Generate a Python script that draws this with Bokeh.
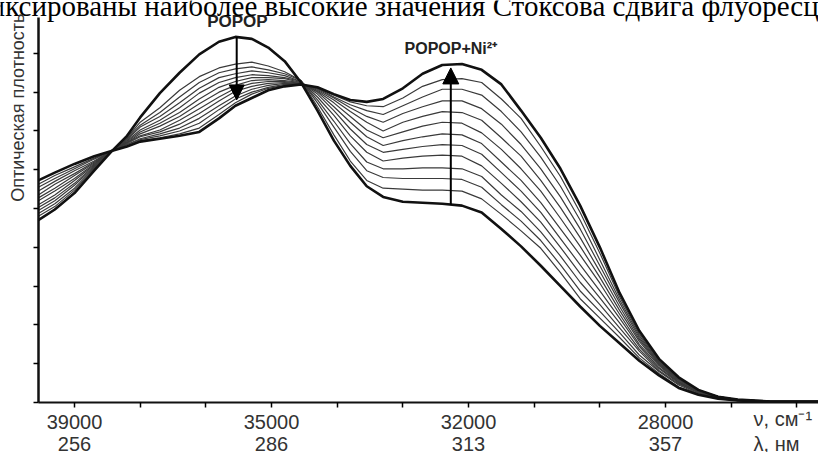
import math
from bokeh.plotting import figure
from bokeh.models import Range1d, FixedTicker, Label, Arrow, NormalHead
from bokeh.embed import file_html
from bokeh.resources import INLINE

# x: position along the wavenumber axis, in tick intervals counted from the 39000 cm-1 tick
pos = [-0.55, -0.3, 0.0, 0.3, 0.55, 0.8, 1.0, 1.3, 1.6, 1.9, 2.2, 2.45, 2.7, 2.95, 3.2, 3.45,
       3.7, 3.95, 4.2, 4.45, 4.7, 5.0, 5.3, 5.6, 5.9, 6.2, 6.5, 6.8, 7.1, 7.4, 7.7, 8.0, 8.3,
       8.6, 8.9, 9.2, 9.5, 9.8, 10.1, 10.6, 11.35]

# optical density, mOD
popop = [188, 199, 216, 239, 258, 275, 294, 319, 340, 359, 372, 377, 375, 366, 352, 330, 301, 270,
         244, 223, 212, 207, 206, 205, 203, 196, 179, 161, 141, 120, 99, 79, 61, 43, 28, 15, 8, 4, 2, 1, 1]
popop_ni = [229, 237, 246, 254, 259, 264, 269, 272, 275, 279, 293, 306, 314, 322, 326, 328, 325, 318,
            312, 310, 313, 324, 339, 348, 349, 343, 328, 301, 273, 241, 203, 160, 113, 74, 45, 26, 13, 6, 3, 1, 1]

step1 = [192, 202, 219, 241, 258, 273, 289, 304, 322, 336, 345, 349, 351, 347, 341, 332, 305, 276, 249, 229,
         221, 220, 219, 219, 218, 210, 194, 177, 159, 134, 107, 87, 67, 46, 30, 16, 9, 4, 2, 1, 1]
step2 = [195, 205, 221, 242, 258, 272, 286, 299, 315, 330, 340, 344, 346, 343, 339, 332, 309, 284, 259, 239,
         232, 231, 231, 231, 230, 222, 204, 187, 167, 142, 115, 94, 72, 49, 32, 18, 9, 5, 2, 1, 1]
step3 = [198, 208, 224, 243, 259, 271, 284, 295, 309, 324, 335, 339, 342, 340, 337, 331, 312, 290, 267, 248,
         241, 241, 242, 242, 241, 233, 214, 197, 176, 151, 124, 101, 77, 53, 33, 19, 10, 5, 2, 1, 1]
step4 = [201, 211, 226, 244, 259, 270, 281, 291, 304, 319, 330, 335, 338, 337, 335, 331, 315, 296, 275, 258,
         249, 252, 254, 255, 254, 244, 226, 207, 186, 160, 133, 108, 82, 55, 35, 20, 10, 5, 3, 1, 1]
step5 = [204, 214, 229, 245, 259, 269, 279, 288, 299, 313, 325, 331, 335, 335, 334, 330, 318, 301, 282, 266,
         258, 261, 264, 266, 265, 256, 237, 218, 196, 169, 142, 115, 87, 58, 36, 21, 11, 5, 3, 1, 1]
step6 = [208, 218, 231, 246, 259, 268, 277, 285, 295, 308, 320, 327, 332, 333, 332, 330, 320, 305, 289, 274,
         265, 270, 274, 277, 276, 267, 248, 229, 206, 179, 152, 123, 91, 60, 38, 21, 11, 5, 3, 1, 1]
step7 = [211, 221, 234, 247, 259, 268, 275, 281, 291, 303, 315, 324, 329, 331, 331, 329, 321, 309, 295, 281,
         273, 279, 285, 289, 288, 278, 261, 241, 218, 190, 161, 129, 95, 63, 39, 22, 11, 5, 3, 1, 1]
step8 = [214, 225, 236, 248, 259, 267, 274, 279, 287, 298, 311, 321, 326, 329, 330, 329, 322, 312, 300, 289,
         280, 289, 295, 300, 299, 291, 273, 254, 229, 201, 170, 135, 99, 65, 40, 23, 12, 6, 3, 1, 1]
step9 = [218, 228, 239, 249, 259, 266, 272, 277, 283, 293, 306, 316, 323, 327, 329, 329, 323, 314, 304, 295,
         289, 298, 305, 311, 311, 303, 287, 266, 241, 212, 179, 141, 103, 67, 41, 24, 12, 6, 3, 1, 1]
step10 = [222, 231, 241, 251, 259, 266, 271, 275, 280, 288, 302, 313, 320, 325, 328, 328, 324, 315, 307, 301,
          297, 306, 315, 323, 323, 317, 300, 279, 253, 223, 188, 147, 106, 69, 42, 24, 12, 6, 3, 1, 1]
step11 = [225, 234, 243, 252, 259, 265, 270, 273, 277, 283, 297, 309, 318, 324, 327, 328, 324, 317, 310, 306,
          305, 314, 326, 333, 334, 330, 313, 293, 264, 233, 196, 154, 109, 71, 43, 25, 13, 6, 3, 1, 1]

steps = [step1, step2, step3, step4, step5, step6, step7, step8, step9, step10, step11]

x_ticks = list(range(12))
nu_labels = {0: "39000", 3: "35000", 6: "32000", 9: "28000"}
lam_labels = {0: "256", 3: "286", 6: "313", 9: "357"}
y_ticks = [0, 40, 80, 120, 160, 200, 240, 280, 320, 360]

X_AXIS_START, X_AXIS_END = -0.548, 11.33
Y_AXIS_TOP = 397

# the frame covers the whole canvas; axes are drawn at fixed locations inside it
p = figure(width=818, height=452, output_backend="svg", toolbar_location=None, title=None,
           x_range=Range1d(-1.1268, 11.329), y_range=Range1d(-51.56, 414.53),
           min_border_left=0, min_border_right=0, min_border_top=0, min_border_bottom=0)
p.grid.visible = False
p.outline_line_color = None
p.background_fill_color = "white"
p.border_fill_color = "white"

for s in steps:
    p.line(pos, s, line_width=1.2, line_color="#3a3a3a")
p.line(pos, popop, line_width=2.6, line_color="#111111")
p.line(pos, popop_ni, line_width=2.6, line_color="#111111")

xa = p.xaxis[0]
xa.fixed_location = 0
xa.bounds = (X_AXIS_START, X_AXIS_END)
xa.ticker = FixedTicker(ticks=x_ticks)
xa.major_label_overrides = {i: nu_labels.get(i, "") for i in x_ticks}
xa.axis_line_width = 2
xa.axis_line_color = "#111111"
xa.major_tick_out = 5
xa.major_tick_in = 0
xa.major_tick_line_width = 1.5
xa.minor_tick_line_color = None
xa.major_label_standoff = 8
xa.major_label_text_font = "Liberation Sans"
xa.major_label_text_font_size = "20px"
xa.major_label_text_color = "#333333"

ya = p.yaxis[0]
ya.fixed_location = X_AXIS_START
ya.bounds = (0, Y_AXIS_TOP)
ya.ticker = FixedTicker(ticks=y_ticks)
ya.major_label_overrides = {t: "" for t in y_ticks}
ya.axis_line_width = 2.5
ya.axis_line_color = "#111111"
ya.major_tick_out = 5
ya.major_tick_in = 0
ya.major_tick_line_width = 1.5
ya.minor_tick_line_color = None

# arrows
p.add_layout(Arrow(end=NormalHead(size=15, fill_color="black", line_color="black"),
                   x_start=2.47, y_start=377, x_end=2.47, y_end=312,
                   line_width=2, line_color="black"))
p.add_layout(Arrow(end=NormalHead(size=16, fill_color="black", line_color="black"),
                   x_start=5.73, y_start=204, x_end=5.73, y_end=345,
                   line_width=2, line_color="black"))

p.add_layout(Label(x=2.48, y=392.5, text="POPOP", text_font="Liberation Sans", text_font_style="bold",
                   text_font_size="17px", text_color="#222222", text_align="center",
                   text_baseline="alphabetic"))
p.add_layout(Label(x=5.73, y=365.2, text="POPOP+Ni²⁺", text_font="Liberation Sans", text_font_style="bold",
                   text_font_size="16px", text_color="#222222", text_align="center",
                   text_baseline="alphabetic"))

# page text above the figure (cut off by the page edge)
p.add_layout(Label(x=-1.949, y=409.1,
                   text="зафиксированы наиболее высокие значения Стоксова сдвига флуоресценции",
                   text_font="Liberation Serif", text_font_size="29px", text_color="black",
                   text_align="left", text_baseline="alphabetic"))

# y-axis title
p.add_layout(Label(x=-0.86, y=304, angle=math.pi / 2,
                   text="Оптическая плотность", text_font="Liberation Sans", text_font_size="18px",
                   text_color="#333333", text_align="center", text_baseline="middle"))

# units and wavelength row
p.add_layout(Label(x=10.34, y=-17.5, text="ν, см⁻¹",
                   text_font="Liberation Sans", text_font_size="20px", text_color="#333333",
                   text_align="left", text_baseline="alphabetic"))
p.add_layout(Label(x=10.34, y=-43.3, text="λ, нм",
                   text_font="Liberation Sans", text_font_size="20px", text_color="#333333",
                   text_align="left", text_baseline="alphabetic"))
for k, t in lam_labels.items():
    p.add_layout(Label(x=k, y=-43.3, text=t,
                       text_font="Liberation Sans", text_font_size="20px", text_color="#333333",
                       text_align="center", text_baseline="alphabetic"))

open("out.html", "w").write(file_html(p, INLINE))
